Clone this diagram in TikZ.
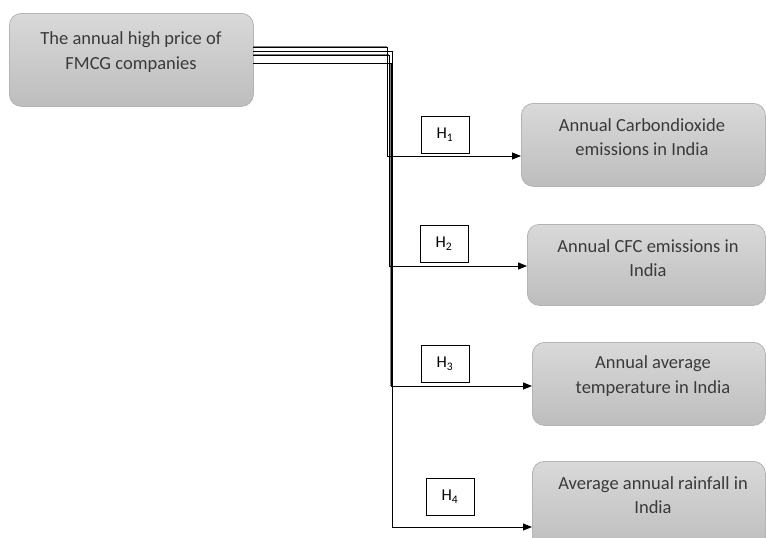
\documentclass[tikz,border=0pt]{standalone}
\usepackage{fontspec}
\setmainfont{Carlito}
\usetikzlibrary{arrows.meta}
\definecolor{boxtop}{HTML}{D9D9D9}
\definecolor{boxbot}{HTML}{BDBDBD}
\definecolor{boxline}{HTML}{B4B4B4}
\definecolor{textcol}{HTML}{3A3A3A}
\definecolor{wiregray}{HTML}{808080}
\begin{document}
\begin{tikzpicture}[x=1pt,y=-1pt,
  box/.style={draw=boxline, line width=0.8pt, rounded corners=12pt, top color=boxtop, bottom color=boxbot, inner sep=0pt, anchor=north west},
  hbox/.style={draw=black, line width=0.7pt, fill=white, minimum width=48pt, minimum height=37pt, inner sep=0pt, font=\fontsize{16.5}{18}\selectfont, text=black},
  txt/.style={align=center, font=\fontsize{18.5}{24.5}\selectfont, text=textcol, inner sep=0pt},
  arr/.style={-{Triangle[length=9pt,width=7pt]}, draw=black, line width=0.8pt}]
\clip (0,0) rectangle (766,538);
\fill[white] (0,0) rectangle (766,538);

% boxes
\node[box, minimum width=244pt, minimum height=93pt] (src) at (9,13) {};
\node[box, minimum width=244pt, minimum height=83pt] (b1) at (521,103) {};
\node[box, minimum width=238pt, minimum height=81pt] (b2) at (527,224) {};
\node[box, minimum width=233pt, minimum height=83pt] (b3) at (532,342) {};
\node[box, minimum width=233pt, minimum height=90pt] (b4) at (532,461) {};

% texts
\node[txt] (srct) at (131,52) {The annual high price of\\FMCG companies};
\node[txt] (b1t) at (642,137) {Annual Carbondioxide\\emissions in India};
\node[txt] (b2t) at (648,258) {Annual CFC emissions in\\India};
\node[txt] (b3t) at (653,376) {Annual average\\temperature in India};
\node[txt] (b4t) at (653,495) {Average annual rainfall in\\India};

% hypothesis labels
\node[hbox] (h1) at (445,134.5) {H\textsubscript{1}};
\node[hbox] (h2) at (444,243.5) {H\textsubscript{2}};
\node[hbox] (h3) at (445,364) {H\textsubscript{3}};
\node[hbox] (h4) at (450,496.5) {H\textsubscript{4}};

% connector points
\coordinate (s1) at (253,47);
\coordinate (s2) at (253,55);
\coordinate (s3) at (253,63);
\coordinate (s4) at (253,51);
\coordinate (j1) at (387,47);
\coordinate (j2) at (389,55);
\coordinate (j3) at (391,63);
\coordinate (j4) at (392,51);
\coordinate (t1) at (b1.west |- 0,156);
\coordinate (t2) at (b2.west |- 0,266);
\coordinate (t3) at (b3.west |- 0,386);
\coordinate (t4) at (b4.west |- 0,527);

% grey underlays
\draw[draw=wiregray, line width=2.6pt] (s1) -- (j1);
\draw[draw=wiregray, line width=1.8pt] (s2) -- (j2);
\draw[draw=wiregray, line width=2.6pt] (j3) -- (391,386);

% connectors
\draw[arr] (s1) -- (j1) |- (t1);
\draw[arr] (s2) -- (j2) |- (t2);
\draw[arr] (s3) -- (j3) |- (t3);
\draw[arr] (s4) -- (j4) |- (t4);
\end{tikzpicture}
\end{document}
